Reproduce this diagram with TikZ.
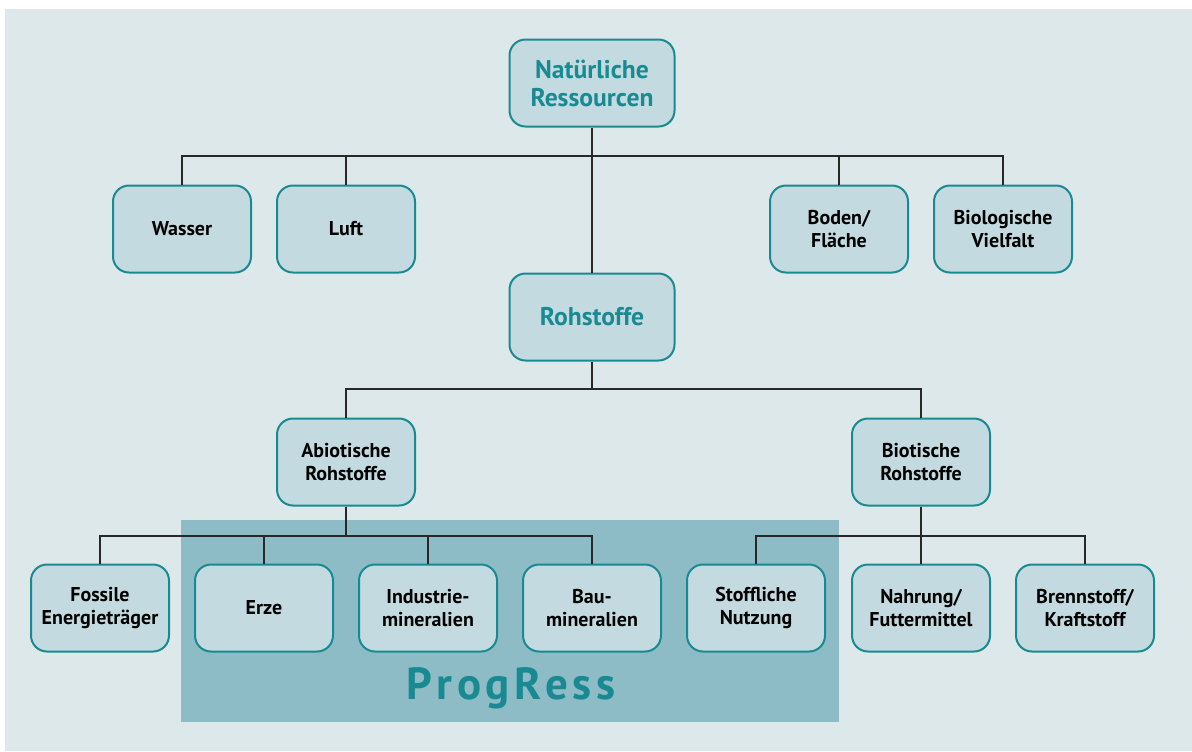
\documentclass[tikz,border=0pt]{standalone}
\usepackage{fontspec}
\setmainfont{PT Sans}
\usepackage{tikz}
\usetikzlibrary{calc}
\definecolor{cus-bg}{RGB}{221, 232, 234}
\definecolor{cus-box}{RGB}{195, 219, 224}
\definecolor{cus-teal}{RGB}{26, 138, 146}
\definecolor{cus-prog}{RGB}{141, 188, 198}
\definecolor{cus-line}{RGB}{40, 40, 40}
\tikzset{
	res/.style={draw=cus-teal, line width=1pt, fill=cus-box, rounded corners=8pt,
		minimum width=69pt, minimum height=43.5pt, align=center,
		font=\fontsize{10}{11.7}\selectfont\bfseries},
	head/.style={res, minimum width=82.5pt, text=cus-teal,
		font=\fontsize{12.8}{14}\selectfont\bfseries},
	link/.style={draw=cus-line, line width=0.6pt}
}
\begin{document}
\begin{tikzpicture}[x=0.5pt, y=-0.5pt]
\useasboundingbox (0,0) rectangle (1192,751);
\fill [cus-bg] (5,9) rectangle (1192,751);
\fill [cus-prog] (181,520) rectangle (839,722);
\node [text=cus-teal, font=\fontsize{22.5}{26}\selectfont\bfseries] (prog) at (511,688)
	{P\hspace{2.2pt}r\hspace{2.2pt}o\hspace{2.2pt}g\hspace{2.2pt}R\hspace{2.2pt}e\hspace{2.2pt}s\hspace{2.2pt}s};

% top levels
\node [head] (nat) at (592,83) {Natürliche\\Ressourcen};
\node [res] (wasser) at (182,229) {Wasser};
\node [res] (luft) at (346,229) {Luft};
\node [res] (boden) at (839,229) {Boden/\\Fläche};
\node [res] (vielfalt) at (1003,229) {Biologische\\Vielfalt};
\node [head] (roh) at (592,317) {Rohstoffe};
\node [res] (abio) at (346,462) {Abiotische\\Rohstoffe};
\node [res] (bio) at (921,462) {Biotische\\Rohstoffe};

% bottom row
\node [res] (fossil) at (100,608) {Fossile\\Energieträger};
\node [res] (erze) at (264,608) {Erze};
\node [res] (indu) at (428,608) {Industrie-\\mineralien};
\node [res] (bau) at (592,608) {Bau-\\mineralien};
\node [res] (stoff) at (756,608) {Stoffliche\\Nutzung};
\node [res] (nahrung) at (921,608) {Nahrung/\\Futtermittel};
\node [res] (brenn) at (1085,608) {Brennstoff/\\Kraftstoff};

\coordinate (j1) at (592,156);
\coordinate (j2) at (592,389);
\coordinate (j3) at (346,536);
\coordinate (j4) at (921,536);

\draw [link] (nat.south) -- (roh.north);
\draw [link] (wasser.north) |- (j1) -| (vielfalt.north);
\draw [link] (luft.north) -- (luft.north |- j1);
\draw [link] (boden.north) -- (boden.north |- j1);
\draw [link] (roh.south) -- (j2);
\draw [link] (abio.north) |- (j2) -| (bio.north);
\draw [link] (abio.south) -- (j3);
\draw [link] (fossil.north) |- (j3) -| (bau.north);
\draw [link] (erze.north) -- (erze.north |- j3);
\draw [link] (indu.north) -- (indu.north |- j3);
\draw [link] (bio.south) -- (j4);
\draw [link] (stoff.north) |- (j4) -| (brenn.north);
\draw [link] (nahrung.north) -- (nahrung.north |- j4);
\end{tikzpicture}
\end{document}
